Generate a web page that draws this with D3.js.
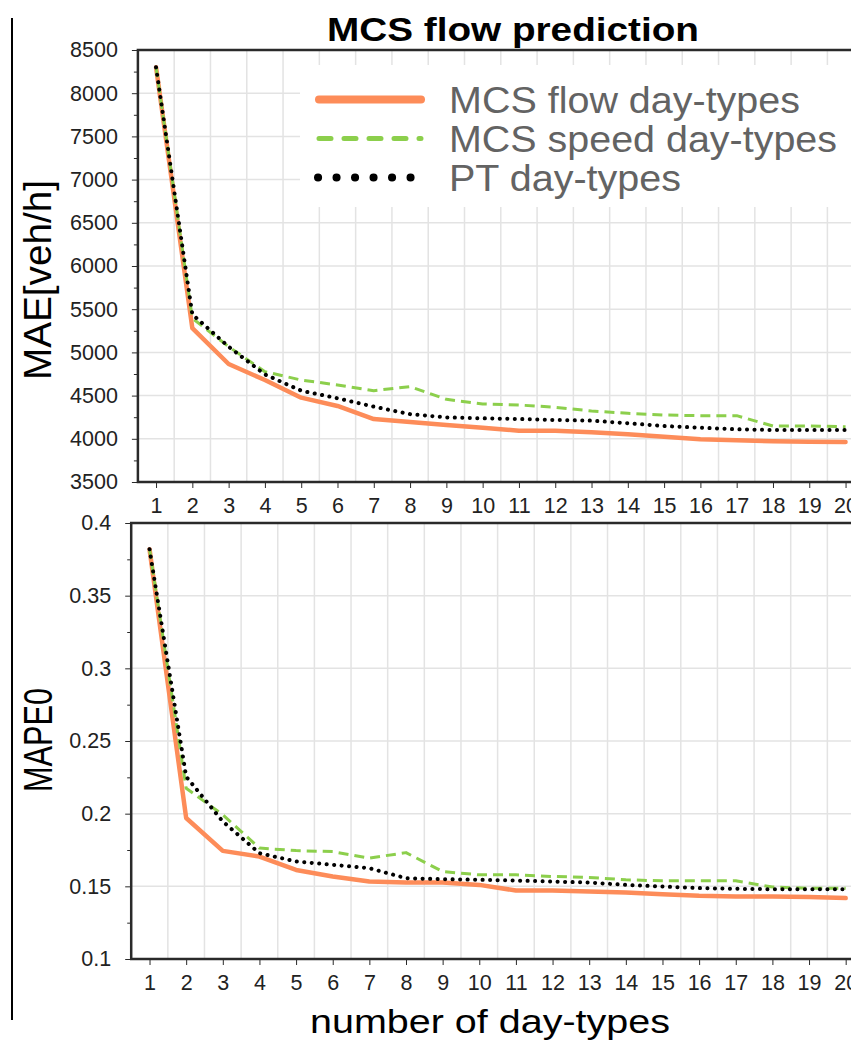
<!DOCTYPE html>
<html>
<head>
<meta charset="utf-8">
<script src="https://cdn.jsdelivr.net/npm/d3@7"></script>
<style>
  body { margin: 0; background: #fff; }
  svg { display: block; font-family: "Liberation Sans", Arial, Helvetica, sans-serif; }
  .grid line { stroke: #e3e3e3; stroke-width: 1.5; }
  .axis path, .axis line { stroke: #2a2a2a; }
  .axis text { fill: #222; font-size: 21.5px; }
</style>
</head>
<body>
<svg id="chart" width="851" height="1044"></svg>
<script>
// Number of day-types on the x axis
const dayTypes = d3.range(1, 21);

// MAE [veh/h] per method
const maeFlow = [8300, 5280, 4866, 4680, 4476, 4380, 4229, 4195, 4160, 4129, 4094, 4094, 4075, 4052, 4024, 3994, 3982, 3971, 3967, 3962];
const maeSpeed = [8300, 5395, 5066, 4777, 4680, 4623, 4557, 4604, 4457, 4403, 4391, 4365, 4322, 4295, 4275, 4268, 4268, 4148, 4148, 4140];
const maePT = [8300, 5440, 5066, 4745, 4557, 4469, 4372, 4285, 4248, 4237, 4229, 4218, 4210, 4180, 4148, 4129, 4110, 4102, 4102, 4102];

// MAPE0 per method
const mapeFlow = [0.382, 0.197, 0.1744, 0.1705, 0.1613, 0.1568, 0.1533, 0.1526, 0.1526, 0.151, 0.1471, 0.1471, 0.1464, 0.1457, 0.1446, 0.1435, 0.143, 0.143, 0.1426, 0.1419];
const mapeSpeed = [0.382, 0.2175, 0.1992, 0.1763, 0.1746, 0.1739, 0.1694, 0.1732, 0.1602, 0.1579, 0.1579, 0.1568, 0.1561, 0.1545, 0.1538, 0.1538, 0.1538, 0.1495, 0.1487, 0.1487];
const mapePT = [0.382, 0.2255, 0.1946, 0.1728, 0.1671, 0.1648, 0.1625, 0.1556, 0.1549, 0.1545, 0.154, 0.1533, 0.1526, 0.151, 0.1499, 0.1488, 0.1483, 0.148, 0.148, 0.148];

// Tick values
const maeTicks = d3.range(3500, 8501, 500);
const maeMinor = d3.range(3750, 8500, 500);
const mapeTicks = [0.1, 0.15, 0.2, 0.25, 0.3, 0.35, 0.4];
const mapeMinor = [0.125, 0.175, 0.225, 0.275, 0.325, 0.375];

const legendNames = ["MCS flow day-types", "MCS speed day-types", "PT day-types"];

// Line styles for the three series
const styles = [
  { color: "#fd8c59", width: 4.5, dash: null, cap: "round" },
  { color: "#8ccf4c", width: 3, dash: "10 6", cap: "butt" },
  { color: "#000000", width: 4, dash: "0.1 7.4", cap: "round" },
];

const svg = d3.select("#chart");

function drawPanel(opts) {
  const x = d3.scaleLinear().domain([0.5, 20.5]).range([opts.left, opts.right]);
  const y = d3.scaleLinear().domain(opts.yDomain).range([opts.bottom, opts.top]);
  const g = svg.append("g");

  // Gridlines: vertical ones sit between the day-type ticks
  const grid = g.append("g").attr("class", "grid");
  grid.selectAll(".v")
    .data(d3.range(1.5, 21, 1))
    .join("line")
    .attr("x1", (d) => x(d)).attr("x2", (d) => x(d))
    .attr("y1", opts.top).attr("y2", opts.bottom);
  grid.selectAll(".h")
    .data(opts.ticks)
    .join("line")
    .attr("x1", opts.left).attr("x2", opts.right)
    .attr("y1", (d) => y(d)).attr("y2", (d) => y(d));

  // Series
  const line = d3.line().x((d, i) => x(dayTypes[i])).y((d) => y(d));
  opts.series.forEach((s, i) => {
    const st = styles[i];
    g.append("path")
      .datum(s)
      .attr("d", line)
      .attr("fill", "none")
      .attr("stroke", st.color)
      .attr("stroke-width", st.width)
      .attr("stroke-linecap", st.cap)
      .attr("stroke-linejoin", "round")
      .attr("stroke-dasharray", st.dash);
  });

  // Axes
  const yAxis = d3.axisLeft(y).tickValues(opts.ticks).tickSize(6).tickPadding(14)
    .tickFormat(opts.fmt);
  g.append("g").attr("class", "axis")
    .attr("transform", `translate(${opts.left},0)`)
    .call(yAxis)
    .call((a) => a.select(".domain").remove());
  g.append("g").attr("class", "axis")
    .attr("transform", `translate(${opts.left},0)`)
    .call(d3.axisLeft(y).tickValues(opts.minor).tickSize(4).tickFormat(""))
    .call((a) => a.select(".domain").remove());
  g.append("g").attr("class", "axis")
    .attr("transform", `translate(0,${opts.bottom})`)
    .call(d3.axisBottom(x).tickValues(dayTypes).tickSize(6).tickPadding(10).tickFormat(d3.format("d")))
    .call((a) => a.select(".domain").remove());

  // Frame
  g.append("path")
    .attr("d", `M${opts.right},${opts.top}H${opts.left}V${opts.bottom}H${opts.right}`)
    .attr("fill", "none")
    .attr("stroke", "#2a2a2a")
    .attr("stroke-width", 2.5);

  // Y label
  g.append("text")
    .attr("transform", `translate(${opts.labelX},${opts.labelY}) rotate(-90)`)
    .attr("text-anchor", "middle")
    .attr("font-size", opts.labelSize)
    .attr("textLength", opts.labelLen)
    .attr("lengthAdjust", "spacingAndGlyphs")
    .text(opts.label);

  return { x, y };
}

drawPanel({
  left: 137.9, right: 863.7, top: 50, bottom: 482,
  yDomain: [3500, 8500], ticks: maeTicks, minor: maeMinor,
  fmt: d3.format("d"),
  series: [maeFlow, maeSpeed, maePT],
  label: "MAE[veh/h]", labelX: 51, labelY: 280, labelLen: 200, labelSize: 38,
});

drawPanel({
  left: 131.2, right: 864, top: 523, bottom: 959,
  yDomain: [0.1, 0.4], ticks: mapeTicks, minor: mapeMinor,
  fmt: (d) => String(+d.toFixed(2)),
  series: [mapeFlow, mapeSpeed, mapePT],
  label: "MAPE0", labelX: 52, labelY: 740, labelLen: 104, labelSize: 40,
});

// Legend (white box hides the grid behind it)
const legend = svg.append("g");
legend.append("rect")
  .attr("x", 300).attr("y", 65).attr("width", 560).attr("height", 142)
  .attr("fill", "#fff");
const legendStyles = [
  { color: "#fd8c59", width: 8, dash: null },
  { color: "#8ccf4c", width: 5, dash: "12 13" },
  { color: "#000000", width: 8, dash: "0.1 18.4" },
];
const legendLengths = [351, 388, 232];
legendNames.forEach((name, i) => {
  const ly = 99.5 + i * 39;
  const st = legendStyles[i];
  legend.append("line")
    .attr("x1", i === 2 ? 318 : 319).attr("x2", i === 2 ? 411 : 421)
    .attr("y1", ly).attr("y2", ly)
    .attr("stroke", st.color)
    .attr("stroke-width", st.width)
    .attr("stroke-linecap", "round")
    .attr("stroke-dasharray", st.dash);
  legend.append("text")
    .attr("x", 449).attr("y", ly + 13)
    .attr("font-size", 37)
    .attr("fill", "#636363")
    .attr("textLength", legendLengths[i])
    .attr("lengthAdjust", "spacingAndGlyphs")
    .text(name);
});

// Title and shared x label
svg.append("text")
  .attr("x", 513).attr("y", 41)
  .attr("text-anchor", "middle")
  .attr("font-size", 34)
  .attr("font-weight", "bold")
  .attr("textLength", 372)
  .attr("lengthAdjust", "spacingAndGlyphs")
  .text("MCS flow prediction");

svg.append("text")
  .attr("x", 490).attr("y", 1033)
  .attr("text-anchor", "middle")
  .attr("font-size", 33)
  .attr("textLength", 360)
  .attr("lengthAdjust", "spacingAndGlyphs")
  .text("number of day-types");

// Thin vertical line at the left edge
svg.append("line")
  .attr("x1", 12).attr("x2", 12)
  .attr("y1", 18).attr("y2", 1020)
  .attr("stroke", "#000")
  .attr("stroke-width", 2);
</script>
</body>
</html>
